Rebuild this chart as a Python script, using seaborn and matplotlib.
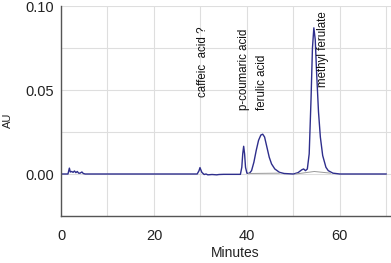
import matplotlib
matplotlib.use("Agg")
import matplotlib.pyplot as plt
import seaborn as sns
import numpy as np
import pandas as pd
from matplotlib.ticker import MultipleLocator, FormatStrFormatter

# chromatogram trace
minutes = [0, 1.5, 1.8, 2.0, 2.3, 2.6, 2.9, 3.2, 3.5, 3.8, 4.1, 4.5, 4.8, 5.2,
           29.3, 29.7, 29.9, 30.3, 30.8, 31.2, 31.6, 32.5, 33.5, 34.0, 35.0,
           38.6, 38.9, 39.1, 39.3, 39.5, 39.7, 40.0, 40.5, 41.0, 41.5, 42.0,
           42.5, 43.0, 43.4, 43.8, 44.3, 44.8, 45.3, 46.0, 47.0, 48.0, 50.0,
           51.0, 51.8, 52.2, 52.6, 53.0, 53.4, 53.8, 54.1, 54.4, 54.7, 55.0,
           55.4, 55.8, 56.3, 57.0, 57.5, 58.5, 60.0, 70.0]
au = [0, 0, 0.0035, 0.0012, 0.0015, 0.0010, 0.0018, 0.0008, 0.0015, 0.0005,
      0.0005, 0.0012, 0.0003, 0,
      0, 0.002, 0.0038, 0.001, -0.0003, 0.0, -0.0005, -0.0003, -0.0005, -0.0003, -0.0002,
      -0.0002, 0.004, 0.012, 0.0165, 0.012, 0.004, 0.0005, 0.0003, 0.002, 0.007, 0.014,
      0.020, 0.0232, 0.0237, 0.022, 0.016, 0.010, 0.006, 0.003, 0.001, 0.0003, 0.0,
      0.0008, 0.0025, 0.003, 0.002, 0.003, 0.012, 0.045, 0.075, 0.087, 0.080, 0.060,
      0.037, 0.022, 0.011, 0.004, 0.002, 0.0005, 0, 0]

# integration baselines
base1_min = [40.3, 47.0]
base1_au = [0.0003, 0.0005]
base2_min = [50.5, 54.5, 58.0]
base2_au = [0.0, 0.0015, 0.0005]

peak_labels = ["caffeic  acid ?", "p-coumaric acid", "ferulic acid", "methyl ferulate"]
peak_label_x = [30.6, 39.3, 43.3, 56.4]
peak_label_y = [0.046, 0.038, 0.038, 0.052]

x_ticks = [0, 20, 40, 60]
y_ticks = [0.00, 0.05, 0.10]

sns.set_style("white")
plt.rcParams['font.family'] = ['Liberation Sans', 'DejaVu Sans']

fig = plt.figure(figsize=(3.91, 2.63), dpi=100)
ax = fig.add_axes([61/391, 1-216/263, 1-61/391, (216-6)/263])

grid_c = "#dedede"
ax.set_xlim(0, 71)
ax.set_ylim(-0.025, 0.10)
ax.xaxis.set_major_locator(MultipleLocator(20))
ax.xaxis.set_minor_locator(MultipleLocator(10))
ax.yaxis.set_major_locator(MultipleLocator(0.05))
ax.yaxis.set_minor_locator(MultipleLocator(0.025))
ax.yaxis.set_major_formatter(FormatStrFormatter("%.2f"))
ax.grid(True, which="both", color=grid_c, linewidth=0.8)
ax.set_axisbelow(True)

df = pd.DataFrame({"Minutes": minutes, "AU": au})
sns.lineplot(data=df, x="Minutes", y="AU", estimator=None, sort=False,
             color="#2e2e8c", linewidth=1.0, ax=ax)
sns.lineplot(x=base1_min, y=base1_au, estimator=None, sort=False,
             color="#9a9a9a", linewidth=0.7, ax=ax)
sns.lineplot(x=base2_min, y=base2_au, estimator=None, sort=False,
             color="#9a9a9a", linewidth=0.7, ax=ax)

for lab, lx, ly in zip(peak_labels, peak_label_x, peak_label_y):
    ax.text(lx, ly, lab, rotation=90, ha="center", va="bottom",
            fontsize=8.3, color="#111111")

ax.set_xticks(x_ticks)
ax.set_yticks(y_ticks)
ax.tick_params(axis="y", which="major", labelsize=10.5, length=3, pad=2,
               color="#444444", labelcolor="#222222", direction="out")
ax.tick_params(axis="x", which="major", labelsize=10.5, length=4, pad=5,
               color="#444444", labelcolor="#222222", direction="out")
ax.tick_params(axis="both", which="minor", length=3, color="#444444", direction="in")
for s in ["top", "right"]:
    ax.spines[s].set_visible(False)
for s in ["left", "bottom"]:
    ax.spines[s].set_color("#555555")
    ax.spines[s].set_linewidth(1.0)

ax.set_xlabel("Minutes", fontsize=10, color="#222222")
ax.set_ylabel("AU", fontsize=8, color="#222222")
ax.xaxis.set_label_coords((235 - 61) / 330, (216 - 246) / 210)
ax.yaxis.set_label_coords((13 - 61) / 330, (216 - 120) / 210)

fig.savefig("out.png", dpi=100)
